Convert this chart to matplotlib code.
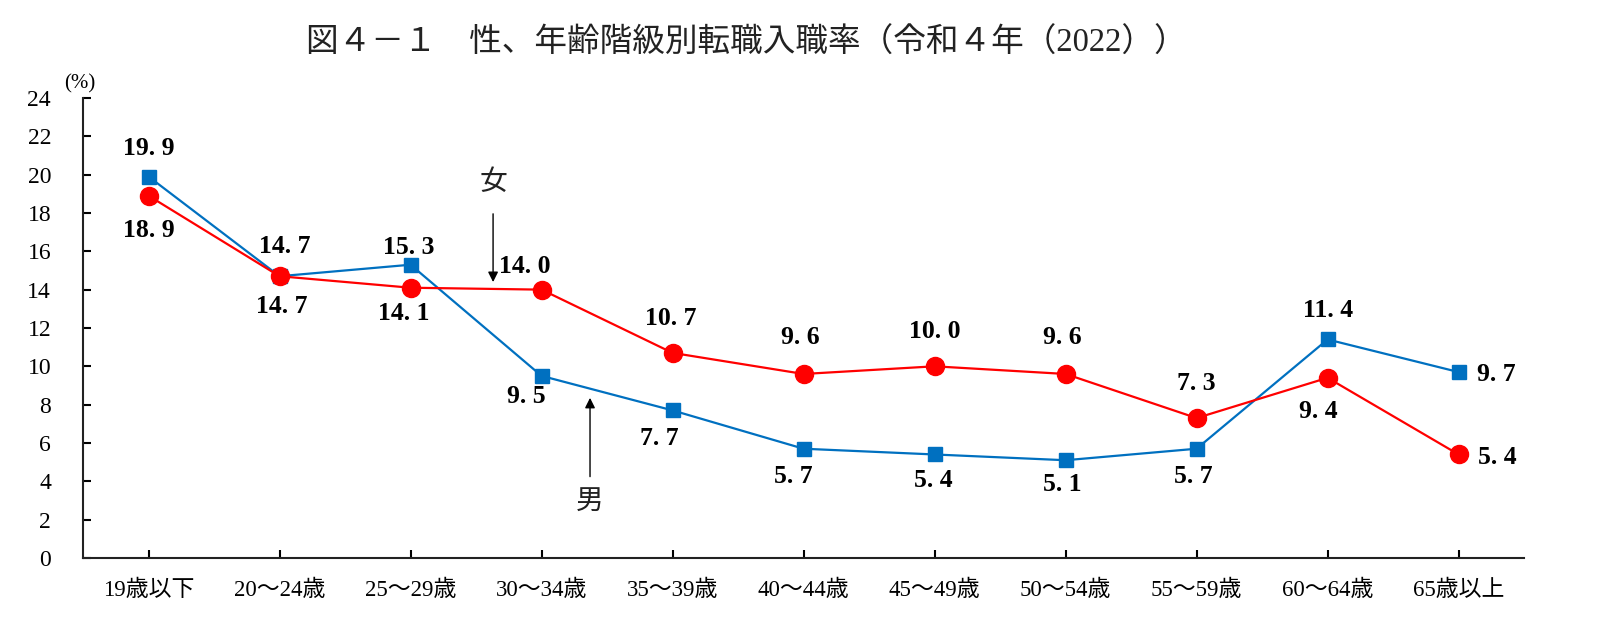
import matplotlib
matplotlib.use('Agg')
import matplotlib.pyplot as plt

plt.rcParams['font.family'] = ['Liberation Serif', 'Noto Sans CJK JP']

# Datos
categorias = ['19歳以下', '20～24歳', '25～29歳', '30～34歳', '35～39歳', '40～44歳',
              '45～49歳', '50～54歳', '55～59歳', '60～64歳', '65歳以上']
hombres = [19.9, 14.7, 15.3, 9.5, 7.7, 5.7, 5.4, 5.1, 5.7, 11.4, 9.7]
mujeres = [18.9, 14.7, 14.1, 14.0, 10.7, 9.6, 10.0, 9.6, 7.3, 9.4, 5.4]
yticks = list(range(0, 25, 2))

# desplazamiento (px) del centro de cada etiqueta respecto al marcador
off_h = [(0, 27), (5, 29), (-2, 17), (-15, -20), (-13, -27), (-10, -27),
         (-1, -25), (-3, -24), (-3, -27), (0, 28), (37, -2)]
off_m = [(0, -34), (2, -30), (-7, -25), (-16, 23), (-2, 34), (-3, 36),
         (0, 34), (-3, 36), (0, 34), (-9, -33), (38, -3)]

azul = '#0070C0'
rojo = '#FF0000'

fig = plt.figure(figsize=(16.06, 6.28), dpi=100)
ax = fig.add_axes([0.0517, 0.1115, 0.8973, 0.7325])

x = list(range(len(categorias)))
ax.plot(x, hombres, color=azul, lw=1.6, marker='s', ms=10.5, zorder=3)
ax.plot(x, mujeres, color=rojo, lw=1.6, marker='o', ms=13, zorder=4)

def etiquetas(valores, offsets):
    for i, (v, (dx, dy)) in enumerate(zip(valores, offsets)):
        ax.annotate(f'{v:.1f}'.replace('.', '. '), (i, v),
                    xytext=(dx * 0.737, dy * 0.737), textcoords='offset points',
                    ha='center', va='center', fontsize=18.5, fontweight='bold')

etiquetas(hombres, off_h)
etiquetas(mujeres, off_m)

# flechas 女 / 男
ax.annotate('', xy=(2.63, 14.25), xytext=(2.63, 18.1),
            arrowprops=dict(arrowstyle='-|>', color='black', lw=1, mutation_scale=15))
ax.text(2.63, 19.6, '女', ha='center', va='center', fontsize=20,
        family=['Noto Sans CJK JP'], color='#222222')
ax.annotate('', xy=(3.37, 8.5), xytext=(3.37, 4.1),
            arrowprops=dict(arrowstyle='-|>', color='black', lw=1, mutation_scale=15))
ax.text(3.37, 3.0, '男', ha='center', va='center', fontsize=20,
        family=['Noto Sans CJK JP'], color='#222222')

ax.set_xlim(-0.5, len(categorias) - 0.5)
ax.set_ylim(0, 24)
ax.set_yticks(yticks)
ax.set_xticks(x)
ax.set_xticklabels(categorias, fontsize=16.5)
ax.tick_params(axis='y', direction='in', length=6, width=1.5, pad=23, labelsize=17)
ax.tick_params(axis='x', direction='in', length=6, width=1.5, pad=16)

for s in ['top', 'right']:
    ax.spines[s].set_visible(False)
for s in ['left', 'bottom']:
    ax.spines[s].set_linewidth(1.5)
    ax.spines[s].set_color('#222222')

fig.text(64 / 1606, 1 - 84 / 628, '(%)', fontsize=15, va='center', ha='left')
fig.text(746 / 1606, 1 - 43 / 628, '図４－１　性、年齢階級別転職入職率（令和４年（2022））',
         fontsize=23.5, ha='center', va='center', color='#222222')

fig.savefig('out.png', dpi=100)
